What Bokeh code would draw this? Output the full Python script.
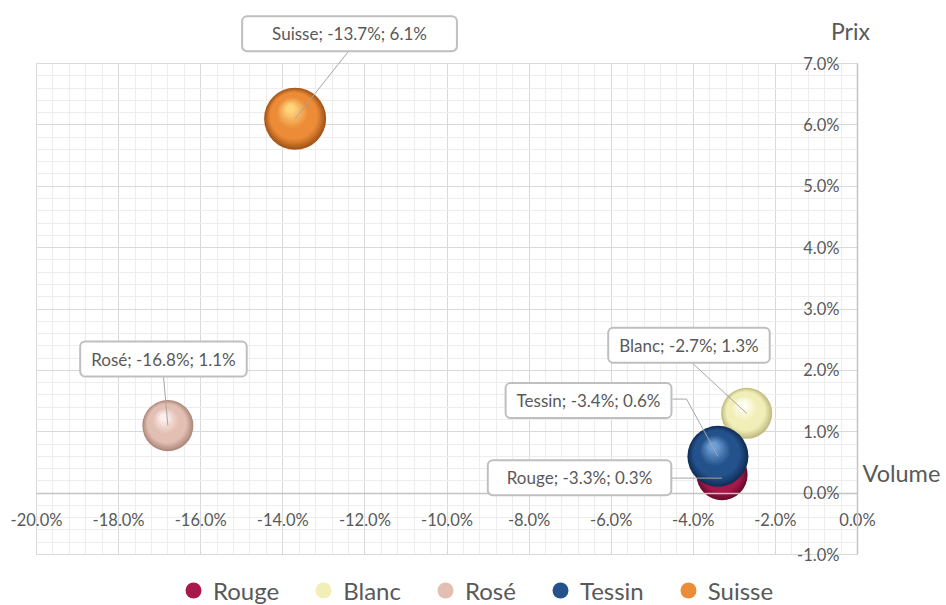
from bokeh.plotting import figure
from bokeh.models import (LinearAxis, Grid, SingleIntervalTicker, PrintfTickFormatter,
                          Label, Legend, LegendItem, Range1d)
from bokeh.embed import file_html
from bokeh.resources import INLINE

# ---- data ----
series = ["Rouge", "Blanc", "Rosé", "Tessin", "Suisse"]
volume = [-3.3, -2.7, -16.8, -3.4, -13.7]      # x, %
prix = [0.3, 1.3, 1.1, 0.6, 6.1]               # y, %
bubble_size = [68, 68, 68, 97, 100]

x_start, x_end, x_step = -20, 0, 2
y_start, y_end, y_step = -1, 7, 1

# ---- style ----
base_colors = ["#A8184B", "#F1EEB8", "#E3BFB3", "#24528C", "#EC8C38"]
rim_colors = ["#6E0C2E", "#C2BE84", "#B08C80", "#12305A", "#A8581A"]
hi_colors = ["#E0507A", "#FFFFF2", "#FCEEEA", "#6E9FD6", "#FFD47C"]
label_off = [(-142.5, -3), (-57.7, 68), (-4.4, 66.5), (-129.4, 55.7), (54.4, 85)]
label_pad = [19, 11, 11, 11, 30]
leaders = [
    [(-50.5, -3.4), (0, -3.4)],
    [(-54.2, 50.2), (0, 0)],
    [(-4.4, 49.5), (0, 0)],
    [(-45.4, 57.2), (-31.4, 57.2), (0, 0)],
    [(53.4, 67.5), (0, 0)],
]
TXT = "#595959"
FONT = "Lato"
MAX_D = 62

W, H = 946, 605
PL, PR, PT, PB = 36, 857, 63, 554          # plot-area box on the canvas
ppx = (PR - PL) / (x_end - x_start)
ppy = (PB - PT) / (y_end - y_start)

p = figure(width=W, height=H, output_backend="svg", toolbar_location=None,
           x_axis_type=None, y_axis_type=None,
           x_range=Range1d(x_start - PL / ppx, x_end + (W - PR) / ppx),
           y_range=Range1d(y_start - (H - PB) / ppy, y_end + PT / ppy),
           min_border_left=0, min_border_right=0, min_border_top=0, min_border_bottom=0)
p.outline_line_color = None
p.background_fill_color = "white"
p.border_fill_color = "white"

xt = SingleIntervalTicker(interval=x_step, num_minor_ticks=5)
yt = SingleIntervalTicker(interval=y_step, num_minor_ticks=5)

eps = 1e-3
p.add_layout(Grid(dimension=0, ticker=xt, bounds=(x_start - eps, x_end + eps),
                  cross_bounds=(y_start, y_end),
                  grid_line_color="#D9D9D9", minor_grid_line_color="#EDEDED"))
p.add_layout(Grid(dimension=1, ticker=yt, bounds=(y_start - eps, y_end + eps),
                  cross_bounds=(x_start, x_end),
                  grid_line_color="#D9D9D9", minor_grid_line_color="#EDEDED"))

xaxis = LinearAxis(ticker=xt, formatter=PrintfTickFormatter(format="%.1f%%"), fixed_location=0,
                   bounds=(x_start, x_end),
                   axis_line_color="#C4C4C4", axis_line_width=1.5,
                   major_tick_out=0, major_tick_in=0, minor_tick_out=0, minor_tick_in=0,
                   major_label_standoff=17, major_label_text_font=FONT,
                   major_label_text_font_size="16.5px", major_label_text_color=TXT)
yaxis = LinearAxis(ticker=yt, formatter=PrintfTickFormatter(format="%.1f%%"), fixed_location=0,
                   bounds=(y_start, y_end),
                   axis_line_color="#C4C4C4", axis_line_width=1.5,
                   major_tick_out=0, major_tick_in=0, minor_tick_out=0, minor_tick_in=0,
                   major_label_standoff=18, major_label_text_font=FONT,
                   major_label_text_font_size="16.5px", major_label_text_color=TXT)
p.add_layout(xaxis, "below")
p.add_layout(yaxis, "left")


def hex2rgb(h):
    h = h.lstrip("#")
    return [int(h[i:i + 2], 16) for i in (0, 2, 4)]


def mix(a, b, t):
    ca, cb = hex2rgb(a), hex2rgb(b)
    return "#%02x%02x%02x" % tuple(int(round(ca[i] + (cb[i] - ca[i]) * t)) for i in range(3))


N = 16
legend_items = []
for i, name in enumerate(series):
    d0 = MAX_D * (bubble_size[i] / 100) ** 0.5
    r = d0 / 2
    hx, hy = -0.15 * r, 0.32 * r
    leg_r = None
    for k in range(N):
        t = k / (N - 1)
        if t < 0.25:
            col = mix(rim_colors[i], base_colors[i], t / 0.25)
        elif t < 0.55:
            col = base_colors[i]
        else:
            col = mix(base_colors[i], hi_colors[i], (t - 0.55) / 0.45)
        rr = p.scatter(x=[volume[i] + t * hx / ppx], y=[prix[i] + t * hy / ppy],
                       size=d0 * (1 - 0.85 * t), marker="circle",
                       fill_color=col, line_color=None)
        if leg_r is None and t >= 0.3:
            leg_r = rr
    legend_items.append(LegendItem(label=name, renderers=[leg_r]))

# leader lines
xs, ys = [], []
for i in range(len(series)):
    xs.append([volume[i] + dx / ppx for dx, dy in leaders[i]])
    ys.append([prix[i] + dy / ppy for dx, dy in leaders[i]])
p.multi_line(xs, ys, line_color="#A6A6A6", line_width=1)

# data labels
for i, name in enumerate(series):
    dx, dy = label_off[i]
    lab = Label(x=volume[i], y=prix[i], x_offset=dx, y_offset=dy,
                text=f"{name}; {volume[i]:.1f}%; {prix[i]:.1f}%",
                text_align="center", text_baseline="middle",
                text_font=FONT, text_font_size="17px", text_color=TXT,
                background_fill_color="white", border_line_color="#BFBFBF",
                border_line_width=2, border_radius=5,
                padding=dict(left=label_pad[i], right=label_pad[i], top=7, bottom=7))
    p.add_layout(lab)

p.add_layout(Label(x=x_end, y=y_end, x_offset=-7, y_offset=33, text="Prix",
                   text_align="center", text_baseline="middle", text_font=FONT,
                   text_font_size="23px", text_color=TXT))
p.add_layout(Label(x=x_end, y=0, x_offset=5, y_offset=20, text="Volume",
                   text_align="left", text_baseline="middle", text_font=FONT,
                   text_font_size="23.5px", text_color=TXT))

legend = Legend(items=legend_items, orientation="horizontal", location=(173, -5),
                glyph_width=40, glyph_height=40, label_standoff=0, spacing=24,
                padding=0, margin=0, border_line_color=None, background_fill_alpha=0,
                label_text_font=FONT, label_text_font_size="24px", label_text_color=TXT)
p.add_layout(legend, "center")

open("out.html", "w").write(file_html(p, INLINE))
